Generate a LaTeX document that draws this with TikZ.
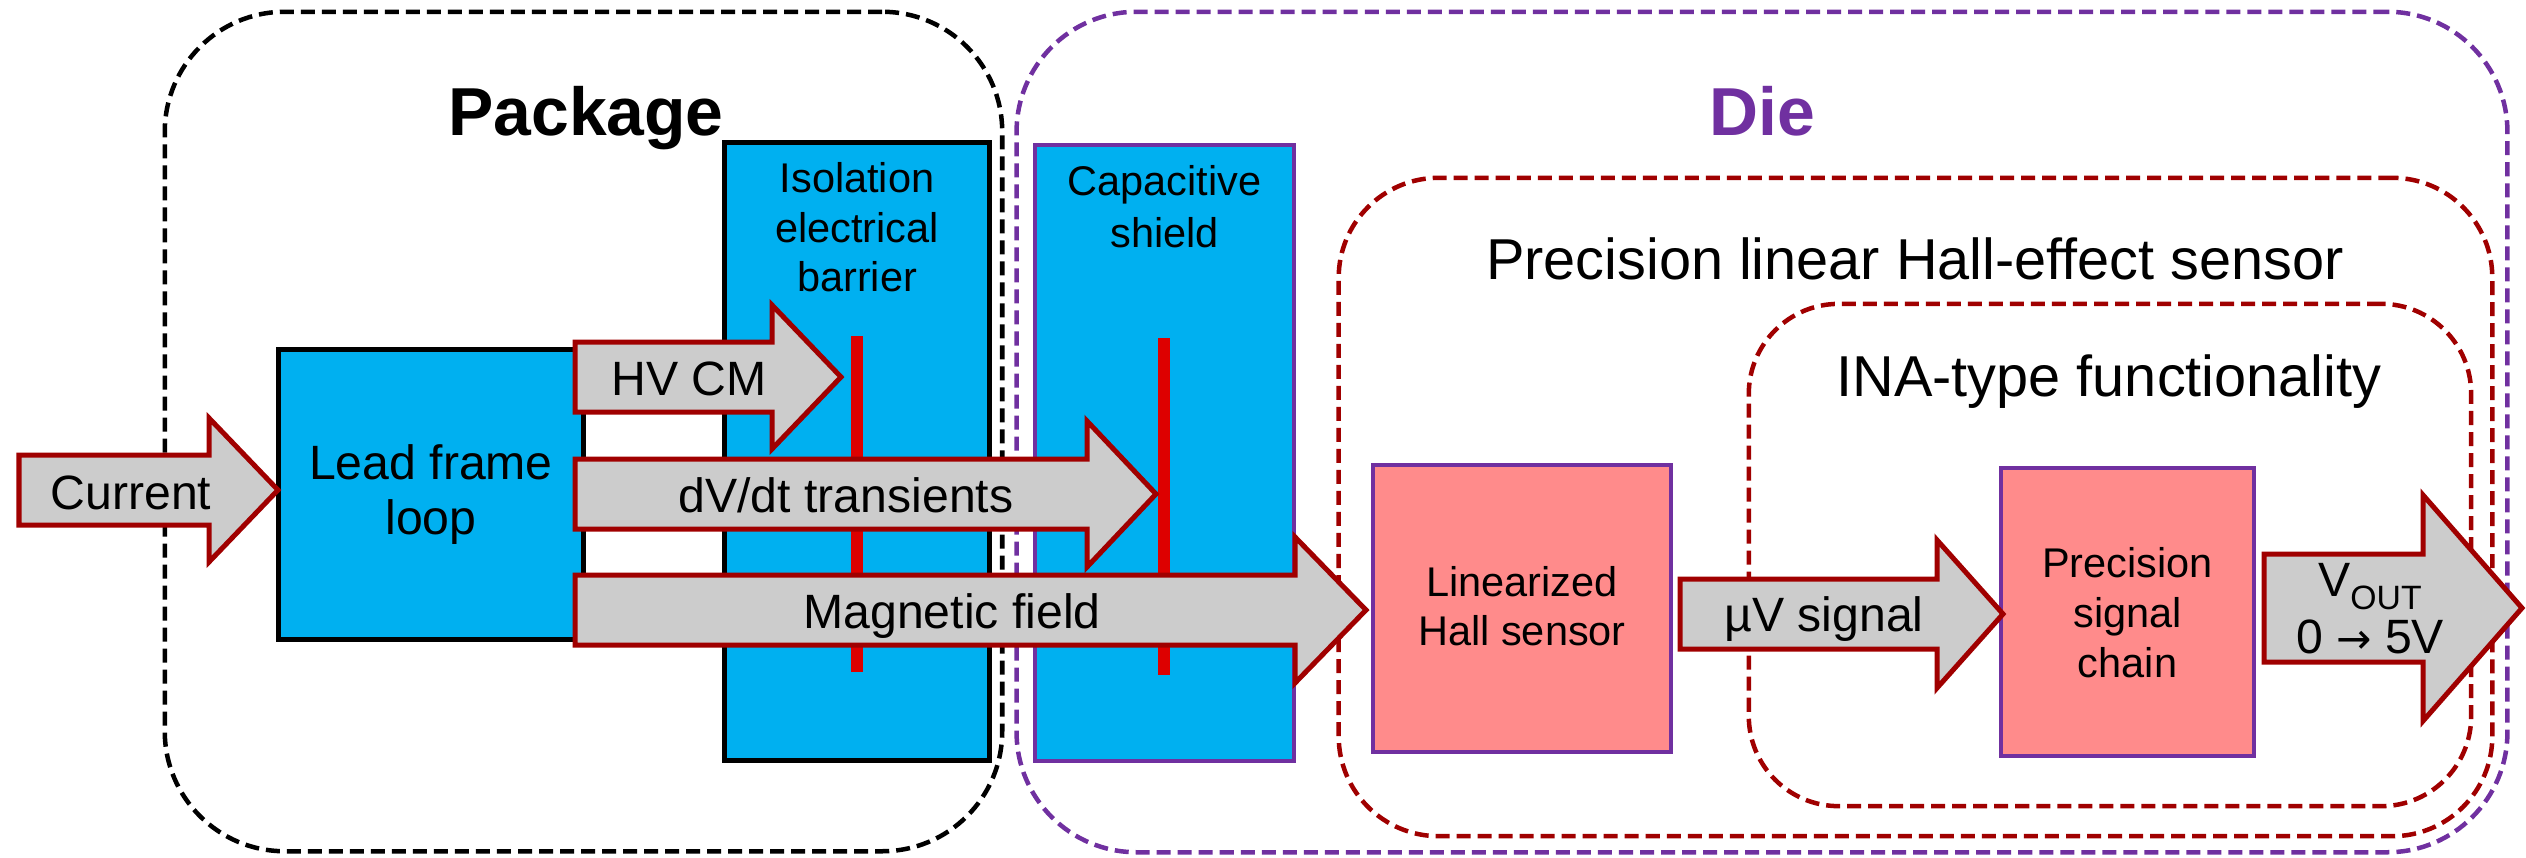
\documentclass[tikz,border=0pt]{standalone}
\usepackage{fontspec}
\setmainfont{Liberation Sans}
\newfontfamily\arrowfont{DejaVu Sans}
\usetikzlibrary{positioning}

\definecolor{shieldblue}{HTML}{00B0F0}
\definecolor{sensorpink}{HTML}{FF8B8B}
\definecolor{diepurple}{HTML}{7030A0}
\definecolor{arrowred}{HTML}{A00000}
\definecolor{barrierred}{HTML}{DD0000}
\definecolor{arrowgray}{HTML}{CCCCCC}

% block arrow: tail x, centre y, head base x, tip x, body half, head half
\newcommand{\fatarrow}[6]{%
  \draw[fatarrow] (#1,#2-#5) -- (#3,#2-#5) -- (#3,#2-#6) -- (#4,#2) -- (#3,#2+#6) -- (#3,#2+#5) -- (#1,#2+#5) -- cycle;}

\begin{document}
\begin{tikzpicture}[
		x=0.01cm, y=-0.01cm,
		dashframe/.style={draw, line width=0.045cm, dash pattern=on 0.14cm off 0.07cm, rounded corners=1.2cm, inner sep=0},
		block/.style={draw, line width=0.05cm, fill=shieldblue, inner sep=0},
		pinkblock/.style={draw=diepurple, line width=0.045cm, fill=sensorpink, inner sep=0},
		barrier/.style={barrierred, line width=0.12cm},
		fatarrow/.style={draw=arrowred, fill=arrowgray, line width=0.05cm},
		bigtitle/.style={font=\fontsize{19.3}{23}\selectfont\bfseries, inner sep=0, anchor=base},
		subtitle/.style={font=\fontsize{16.4}{19}\selectfont, inner sep=0, anchor=base},
		arrowtxt/.style={font=\fontsize{13.7}{16.2}\selectfont, inner sep=0, anchor=base},
		smalltxt/.style={font=\fontsize{11.8}{14.2}\selectfont, align=center, inner sep=0}
		]
		\useasboundingbox (0,0) rectangle (2526,857);
		
		% dashed frames
		\node[dashframe, draw=black, minimum width=8.37cm, minimum height=8.39cm] (package) at (583.5,431.5) {};
		\node[dashframe, draw=diepurple, minimum width=14.9cm, minimum height=8.4cm] (die) at (1762,432) {};
		\node[dashframe, draw=arrowred, rounded corners=1cm, minimum width=11.53cm, minimum height=6.58cm] (hall) at (1915.5,507) {};
		\node[dashframe, draw=arrowred, rounded corners=0.9cm, minimum width=7.22cm, minimum height=5.02cm] (ina) at (2110,555) {};
		
		\node[bigtitle] (packtitle) at (586,135) {Package};
		\node[bigtitle, text=diepurple] (dietitle) at (1762,135) {Die};
		\node[subtitle] (halltitle) at (1915,279) {Precision linear Hall-effect sensor};
		\node[subtitle] (inatitle) at (2109,396) {INA-type functionality};
		
		% blocks
		\node[block, minimum width=2.64cm, minimum height=6.17cm] (iso) at (857,451.5) {};
		\node[block, draw=diepurple, line width=0.04cm, minimum width=2.59cm, minimum height=6.16cm] (cap) at (1164.5,453) {};
		\node[block, minimum width=3.04cm, minimum height=2.89cm, align=center, font=\fontsize{13.7}{15.9}\selectfont] (lead) at (431,494.5) {Lead frame\\loop};
		\node[pinkblock, minimum width=2.98cm, minimum height=2.87cm] (linhall) at (1522,608.5) {};
		\node[pinkblock, minimum width=2.53cm, minimum height=2.88cm] (chain) at (2127.5,612) {};
		
		\node[smalltxt, below=0.21cm of iso.north] (isotxt) {Isolation\\electrical\\barrier};
		\node[smalltxt, below=0.22cm of cap.north, font=\fontsize{11.8}{14.8}\selectfont] (captxt) {Capacitive\\shield};
		\node[smalltxt, below=1.03cm of linhall.north, font=\fontsize{11.8}{13.9}\selectfont] (linhalltxt) {Linearized\\Hall sensor};
		\node[smalltxt, below=0.81cm of chain.north] (chaintxt) {Precision\\signal\\chain};
		
		% barriers
		\draw[barrier] (857,336) -- (857,672);
		\draw[barrier] (1164,338) -- (1164,675);
		
		% arrows
		\fatarrow{19}{490}{209}{278}{35}{72}
		\fatarrow{575}{377}{772}{841}{35}{72}
		\fatarrow{575}{494}{1087}{1156}{35}{73}
		\fatarrow{575}{610}{1295}{1366}{35}{73}
		\fatarrow{1680}{614}{1937}{2003}{35}{74}
		\fatarrow{2264}{608}{2423}{2522}{54}{113}
		
		\node[arrowtxt] (currenttxt) at (131,509) {Current};
		\node[arrowtxt] (hvtxt) at (689,395) {HV CM};
		\node[arrowtxt] (dvdttxt) at (846,512) {dV/dt transients};
		\node[arrowtxt] (magtxt) at (952,628) {Magnetic field};
		\node[arrowtxt] (uvtxt) at (1824,631) {µV signal};
		\node[smalltxt, anchor=north, font=\fontsize{13.7}{16.2}\selectfont] (vouttxt) at (2370,563) {V\raisebox{-0.27em}{\fontsize{9.6}{10}\selectfont OUT}\\0 {\arrowfont\fontsize{12}{14}\selectfont →} 5V};
	\end{tikzpicture}
\end{document}
